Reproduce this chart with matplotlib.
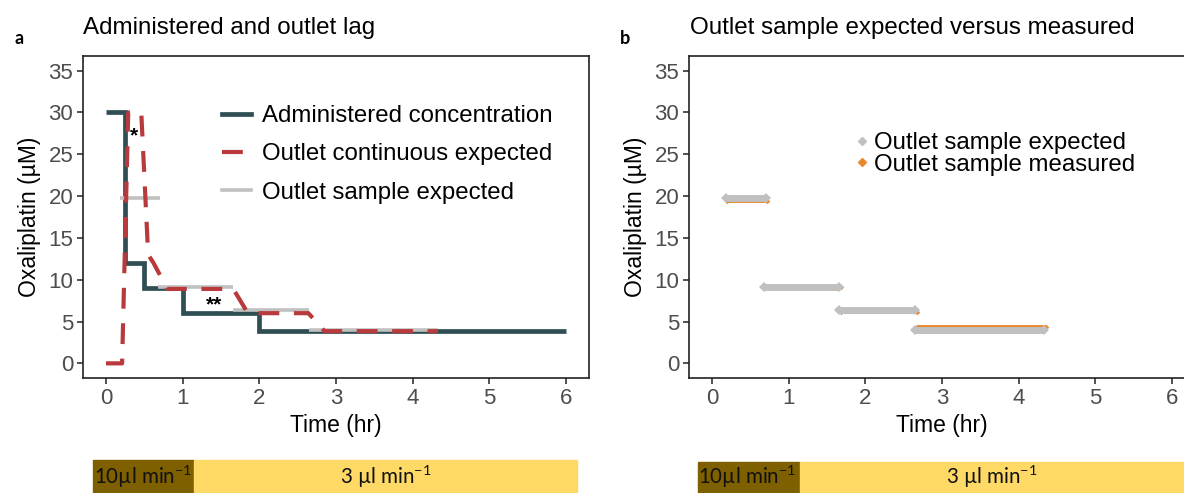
import matplotlib
matplotlib.use("Agg")
import matplotlib.pyplot as plt
from matplotlib.lines import Line2D
from matplotlib.patches import Rectangle

plt.rcParams['font.family'] = ['Liberation Sans', 'DejaVu Sans']
plt.rcParams['mathtext.fontset'] = 'custom'
plt.rcParams['mathtext.rm'] = 'Lato'
plt.rcParams['mathtext.default'] = 'regular'

# ---------------- data ----------------
admin_edges = [0, 0.25, 0.5, 1.0, 2.0, 6.0]
admin_conc = [30, 12, 9, 6, 3.85]

outlet_t = [0, 0.21, 0.29, 0.46, 0.55, 0.62, 0.80, 1.66, 1.85, 2.64, 2.85, 4.33]
outlet_c = [0, 0, 30, 30, 13, 12, 8.9, 8.9, 6.0, 6.0, 3.85, 3.85]

sample_start = [0.18, 0.68, 1.66, 2.65]
sample_end = [0.70, 1.66, 2.65, 4.33]
sample_expected = [19.8, 9.15, 6.4, 3.95]
sample_measured = [19.4, 9.1, 6.2, 4.3]

flow_labels = ["10µl min$^{-1}$", "3 µl min$^{-1}$"]

xticks = [0, 1, 2, 3, 4, 5, 6]
yticks = [0, 5, 10, 15, 20, 25, 30, 35]

C_ADMIN = '#2F4F55'
C_OUT = '#B83A3C'
C_GREY = '#C0C0C0'
C_ORANGE = '#E8892F'
C_DARK = '#7F6000'
C_YEL = '#FFD966'

W, H = 1184, 493
fig = plt.figure(figsize=(W / 100, H / 100), dpi=100)


def fx(px):
    return px / W


def fy(py):
    return 1 - py / H


def style_axes(ax):
    ax.set_xlim(-0.3, 6.3)
    ax.set_ylim(-1.75, 36.75)
    ax.set_xticks(xticks)
    ax.set_yticks(yticks)
    ax.tick_params(length=4, width=1.2, color='#333333', labelcolor='#4D4D4D',
                   labelsize=16, pad=3)
    for s in ax.spines.values():
        s.set_linewidth(1.2)
        s.set_color('#222222')
    ax.set_xlabel('Time (hr)', fontsize=16.5, labelpad=4)
    ax.set_ylabel('Oxaliplatin (µM)', fontsize=16.5, labelpad=5)


# ---------------- panel a ----------------
axa = fig.add_axes([fx(83), fy(378), fx(589 - 83), (378 - 56) / H])
style_axes(axa)
axa.stairs(admin_conc, admin_edges, baseline=None, color=C_ADMIN, lw=3.4)
for s, e, v in zip(sample_start, sample_end, sample_expected):
    axa.plot([s, e], [v, v], color=C_GREY, lw=2.6, solid_capstyle='butt')
axa.plot(outlet_t, outlet_c, color=C_OUT, lw=3.0, dashes=(5, 3.5))
axa.text(0.37, 27.2, '*', fontsize=15, ha='center', va='center', fontweight='bold')
axa.text(1.41, 7.0, '**', fontsize=15, ha='center', va='center', fontweight='bold')

handles_a = [Line2D([], [], color=C_ADMIN, lw=3.4),
             Line2D([], [], color=C_OUT, lw=3.0, dashes=(5, 3.5)),
             Line2D([], [], color=C_GREY, lw=2.6)]
axa.legend(handles_a, ['Administered concentration', 'Outlet continuous expected',
                       'Outlet sample expected'],
           loc='upper left', bbox_to_anchor=(fx(222), fy(105)),
           bbox_transform=fig.transFigure, frameon=False, fontsize=17.3,
           handlelength=1.2, handletextpad=0.45, labelspacing=0.68,
           borderpad=0, borderaxespad=0)

# ---------------- panel b ----------------
axb = fig.add_axes([fx(689), fy(378), fx(1195 - 689), (378 - 56) / H])
style_axes(axb)
for s, e, v in zip(sample_start, sample_end, sample_measured):
    axb.plot([s + 0.02, e + 0.02], [v, v], color=C_ORANGE, lw=2.8,
             solid_capstyle='butt', marker='D', markersize=2.8, markevery=[0, 1],
             markeredgewidth=0)
for s, e, v in zip(sample_start, sample_end, sample_expected):
    axb.plot([s, e], [v, v], color=C_GREY, lw=5.0, solid_capstyle='butt',
             marker='D', markersize=4.6, markevery=[0, 1], markeredgewidth=0)

handles_b = [Line2D([], [], ls='none', marker='D', color=C_GREY, markersize=4.5),
             Line2D([], [], ls='none', marker='D', color=C_ORANGE, markersize=4.5)]
axb.legend(handles_b, ['Outlet sample expected', 'Outlet sample measured'],
           loc='upper left', bbox_to_anchor=(fx(856), fy(132)),
           bbox_transform=fig.transFigure, frameon=False, fontsize=17.3,
           handlelength=0.5, handletextpad=0.25, labelspacing=-0.02,
           borderpad=0, borderaxespad=0)

# ---------------- titles / panel letters ----------------
fig.text(fx(83), fy(28), 'Administered and outlet lag', fontsize=17.4,
         ha='left', va='center')
fig.text(fx(690), fy(28), 'Outlet sample expected versus measured', fontsize=17.4,
         ha='left', va='center')
fig.text(fx(19), fy(39), 'a', fontsize=13, ha='center', va='center',
         family='Lato', fontweight='bold')
fig.text(fx(625), fy(39), 'b', fontsize=13, ha='center', va='center',
         family='Lato', fontweight='bold')

# ---------------- flow-rate bars ----------------
bars = [(93, 194, 577, 460), (698, 800, 1190, 462)]
for x0, x1, x2, ytop in bars:
    fig.patches.append(Rectangle((fx(x0), 0), fx(x1 - x0), (H - ytop) / H,
                                 transform=fig.transFigure, color=C_DARK, zorder=0))
    fig.patches.append(Rectangle((fx(x1), 0), fx(x2 - x1), (H - ytop) / H,
                                 transform=fig.transFigure, color=C_YEL, zorder=0))
    fig.text(fx(x0 + 0.5), fy(477), flow_labels[0], fontsize=14.8, family='Lato',
             ha='left', va='center', color='#111111')
    fig.text(fx((x1 + min(x2, W)) / 2), fy(477), flow_labels[1], fontsize=14.8,
             family='Lato', ha='center', va='center', color='#111111')

fig.savefig('out.png', dpi=100)
